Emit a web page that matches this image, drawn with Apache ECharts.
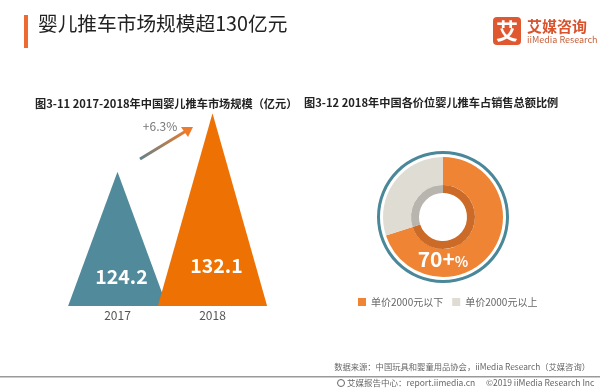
<!DOCTYPE html>
<html><head><meta charset="utf-8">
<script src="https://cdn.jsdelivr.net/npm/echarts@6/dist/echarts.min.js"></script>
<style>html,body{margin:0;padding:0;background:#fff}#c{width:600px;height:390px}</style>
</head><body><div id="c"></div>
<script>
// ---- data ----
const years = ['2017', '2018'];
const marketSize = [124.2, 132.1];
const growthLabel = '+6.3%';
const priceSegments = ['单价2000元以下', '单价2000元以上'];
const segmentShare = [70, 30];

const FONT = '"Noto Sans CJK SC","Noto Sans",sans-serif';
const chart = echarts.init(document.getElementById('c'));

const AXIS_MIN = 106;
const triColors = ['#518A9A', '#EE7203'];
const triWidthRatio = [1.04, 1.15];
const labelLift = [29, 40];
const donutColors = ['#EE8434', '#DFDCD4'];
const innerColors = ['#CC6B27', '#B8B5AE'];

chart.setOption({
  backgroundColor: '#ffffff',
  animation: false,
  grid: { left: 70, width: 190, top: 55, bottom: 84 },
  xAxis: {
    type: 'category', data: years,
    axisLine: { show: false }, axisTick: { show: false },
    axisLabel: { color: '#555', fontSize: 12, fontFamily: FONT, margin: 3 }
  },
  yAxis: { type: 'value', min: AXIS_MIN, max: 140, show: false },
  legend: {
    data: priceSegments, left: 353, top: 292, itemWidth: 8, itemHeight: 8, itemGap: 9,
    icon: 'rect',
    textStyle: { color: '#666', fontSize: 10, fontFamily: FONT }
  },
  series: [
    {
      type: 'custom',
      data: marketSize.map((v, i) => [i, v]),
      renderItem: function (params, api) {
        const i = api.value(0);
        const top = api.coord([i, api.value(1)]);
        const base = api.coord([i, AXIS_MIN]);
        const w = api.size([1, 0])[0] * triWidthRatio[i];
        return {
          type: 'group',
          children: [
            { type: 'polygon', shape: { points: [[top[0], top[1]], [base[0] - w / 2, base[1]], [base[0] + w / 2, base[1]]] },
              style: { fill: triColors[i] } },
            { type: 'text', x: base[0] + 4, y: base[1] - labelLift[i], z2: 10,
              style: { text: String(api.value(1)), fill: '#fff', fontSize: 19.5, fontWeight: 'bold', fontFamily: FONT,
                       align: 'center', verticalAlign: 'middle' } }
          ]
        };
      },
      z: 2
    },
    {
      type: 'pie', center: [443, 217], radius: [63, 66], silent: true,
      label: { show: false }, labelLine: { show: false },
      data: [{ value: 1, name: 'ring', itemStyle: { color: '#4A8798' } }],
      legendHoverLink: false
    },
    {
      type: 'pie', center: [443, 217], radius: [32, 60], startAngle: 90, clockwise: true,
      silent: true, label: { show: false }, labelLine: { show: false },
      data: priceSegments.map((n, i) => ({ name: n, value: segmentShare[i], itemStyle: { color: donutColors[i] } }))
    },
    {
      type: 'pie', center: [443, 217], radius: [24, 32], startAngle: 90, clockwise: true,
      silent: true, label: { show: false }, labelLine: { show: false },
      data: priceSegments.map((n, i) => ({ name: n + ' ', value: segmentShare[i], itemStyle: { color: innerColors[i] } }))
    }
  ],
  graphic: [
    { type: 'rect', shape: { x: 24, y: 15, width: 4, height: 33 }, style: { fill: '#EE6A2F' } },
    { type: 'text', left: 38, top: 14, style: { text: '婴儿推车市场规模超130亿元', fill: '#222', fontSize: 19.7, fontFamily: FONT } },
    { type: 'rect', shape: { x: 493, y: 17, width: 28, height: 28, r: 4 }, style: { fill: '#E0582F' } },
    { type: 'text', x: 507, y: 31, style: { text: '艾', fill: '#fff', fontSize: 22, fontWeight: 'bold', fontFamily: FONT, align: 'center', verticalAlign: 'middle' } },
    { type: 'text', x: 527, y: 26, style: { text: '艾媒咨询', fill: '#D9532C', fontSize: 15, fontWeight: 'bold', fontFamily: FONT, verticalAlign: 'middle' } },
    { type: 'text', x: 527, y: 40, style: { text: 'iiMedia Research', fill: '#C8603A', fontSize: 9, fontFamily: FONT, verticalAlign: 'middle' } },
    { type: 'text', x: 35, y: 104, style: { text: '图3-11 2017-2018年中国婴儿推车市场规模（亿元）', fill: '#222', fontSize: 11.2, fontWeight: 'bold', fontFamily: FONT, verticalAlign: 'middle' } },
    { type: 'text', x: 304, y: 103, style: { text: '图3-12 2018年中国各价位婴儿推车占销售总额比例', fill: '#222', fontSize: 11.2, fontWeight: 'bold', fontFamily: FONT, verticalAlign: 'middle' } },
    { type: 'line', shape: { x1: 140, y1: 159, x2: 186, y2: 131 },
      style: { lineWidth: 3, stroke: new echarts.graphic.LinearGradient(0, 1, 1, 0, [{ offset: 0, color: '#5A8290' }, { offset: 1, color: '#EE7A2A' }]) } },
    { type: 'polygon', shape: { points: [[193, 127], [181, 127], [188, 137]] }, style: { fill: '#EE7A2A' } },
    { type: 'text', x: 160, y: 126, style: { text: growthLabel, fill: '#777', fontSize: 12, fontFamily: FONT, align: 'center', verticalAlign: 'middle' } },
    { type: 'text', x: 443, y: 259, z: 10, style: {
        text: '{a|' + segmentShare[0] + '+}{b|%}', align: 'center', verticalAlign: 'middle',
        rich: { a: { fill: '#fff', fontSize: 21, fontWeight: 'bold', fontFamily: FONT },
                b: { fill: '#fff', fontSize: 14, fontWeight: 'bold', fontFamily: FONT, padding: [5, 0, 0, 0] } } } },
    { type: 'text', right: 10, top: 363, style: { text: '数据来源：中国玩具和婴童用品协会，iiMedia Research（艾媒咨询）', fill: '#666', fontSize: 8.3, fontFamily: FONT } },
    { type: 'rect', shape: { x: 0, y: 376, width: 600, height: 1.5 }, style: { fill: '#9a9a9a' } },
    { type: 'circle', shape: { cx: 341, cy: 383, r: 3.5 }, style: { fill: 'none', stroke: '#666', lineWidth: 1 } },
    { type: 'text', x: 347, y: 383, style: { text: '艾媒报告中心：report.iimedia.cn', fill: '#666', fontSize: 8.5, fontFamily: FONT, verticalAlign: 'middle' } },
    { type: 'text', x: 486, y: 383, style: { text: '©2019 iiMedia Research Inc', fill: '#666', fontSize: 8.5, fontFamily: FONT, verticalAlign: 'middle' } }
  ]
});
</script></body></html>
